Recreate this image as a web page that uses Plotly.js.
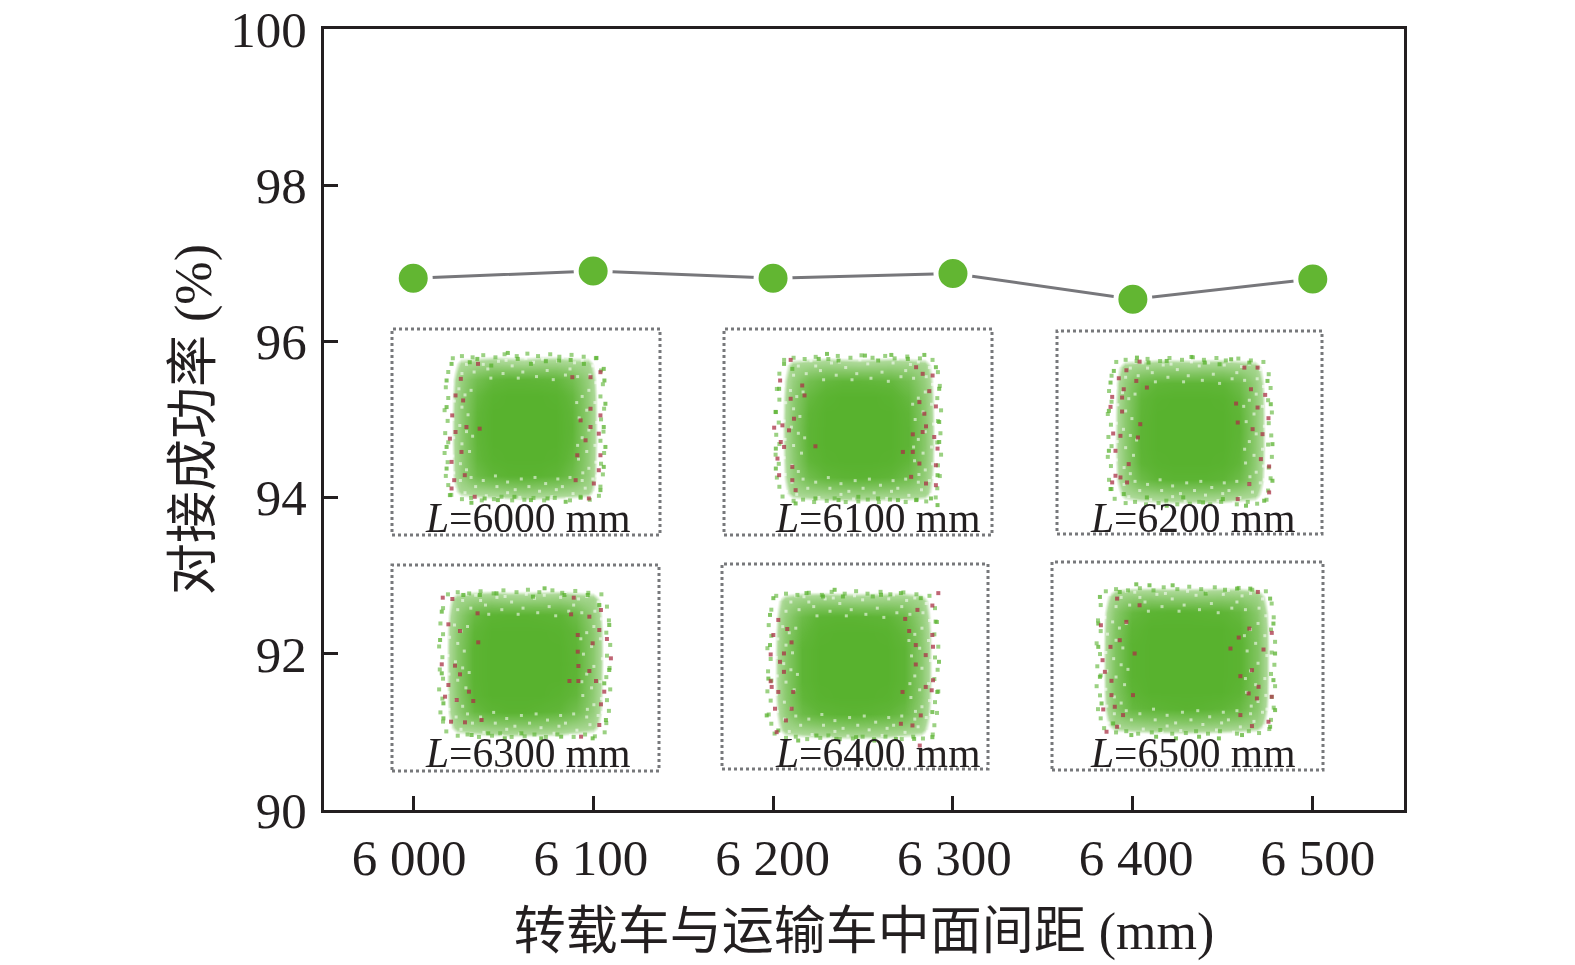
<!DOCTYPE html>
<html>
<head>
<meta charset="utf-8">
<script src="https://cdn.plot.ly/plotly-3.0.1.min.js"></script>
<style>html,body{margin:0;padding:0;background:#fff}</style>
</head>
<body>
<div id="chart" style="width:1575px;height:965px"></div>
<script>
var spacing = [6000, 6100, 6200, 6300, 6400, 6500];
var successRate = [96.81, 96.9, 96.81, 96.87, 96.54, 96.8];
var xTickText = ["6 000", "6 100", "6 200", "6 300", "6 400", "6 500"];
var yTickVals = [90, 92, 94, 96, 98, 100];
var insetNames = ["6000", "6100", "6200", "6300", "6400", "6500"];

// density of the inset clouds, read by eye on a coarse grid (bottom row first)
var gridVals = [-240, -192, -144, -96, -48, 0, 48, 96, 144, 192, 240];
var density1 = [
  [0,0,0,0,0,0,0,0,0,0,0],
  [0,32,38,42,46,50,46,44,40,34,0],
  [0,46,78,90,95,96,95,90,76,46,0],
  [0,48,86,98,100,100,100,98,84,48,0],
  [0,50,88,100,100,100,100,100,88,50,0],
  [0,50,90,100,100,100,100,100,90,50,0],
  [0,50,88,100,100,100,100,100,88,50,0],
  [0,48,84,97,100,100,100,97,84,48,0],
  [0,44,72,86,90,90,88,86,72,44,0],
  [0,30,34,38,36,34,38,38,34,32,0],
  [0,0,0,0,0,0,0,0,0,0,0]];
var density2 = [
  [0,0,0,0,0,0,0,0,0,0,0],
  [0,34,40,44,46,48,46,44,42,36,0],
  [0,46,76,88,92,94,92,88,76,46,0],
  [0,50,88,98,100,100,100,98,88,52,0],
  [0,52,92,100,100,100,100,100,92,54,0],
  [0,54,92,100,100,100,100,100,92,54,0],
  [0,52,90,100,100,100,100,100,90,52,0],
  [0,50,84,96,100,100,100,96,84,50,0],
  [0,44,72,84,88,88,86,84,72,44,0],
  [0,32,36,40,38,36,38,40,38,34,0],
  [0,0,0,0,0,0,0,0,0,0,0]];
var density3 = [
  [0,0,0,0,0,0,0,0,0,0,0],
  [0,30,38,42,46,46,46,44,38,32,0],
  [0,46,78,90,94,94,94,90,78,46,0],
  [0,50,90,98,100,100,100,98,88,50,0],
  [0,52,92,100,100,100,100,100,90,52,0],
  [0,52,92,100,100,100,100,100,92,52,0],
  [0,52,90,100,100,100,100,100,90,52,0],
  [0,50,88,98,100,100,100,98,86,50,0],
  [0,46,78,88,90,90,90,88,76,46,0],
  [0,34,38,42,42,40,42,42,38,34,0],
  [0,0,0,0,0,0,0,0,0,0,0]];
var density4 = [
  [0,0,0,0,0,0,0,0,0,0,0],
  [0,34,40,46,50,50,48,46,38,32,0],
  [0,48,82,92,96,96,92,88,74,46,0],
  [0,52,92,100,100,100,100,96,86,50,0],
  [0,54,94,100,100,100,100,100,90,52,0],
  [0,54,94,100,100,100,100,100,92,54,0],
  [0,54,94,100,100,100,100,100,90,54,0],
  [0,52,90,100,100,100,100,98,88,52,0],
  [0,46,82,94,96,96,94,92,78,46,0],
  [0,36,42,46,42,42,44,46,40,36,0],
  [0,0,0,0,0,0,0,0,0,0,0]];
var density5 = [
  [0,0,0,0,0,0,0,0,0,0,0],
  [0,34,40,44,48,50,48,46,40,34,0],
  [0,46,78,88,92,94,92,88,78,46,0],
  [0,52,88,98,100,100,100,98,88,52,0],
  [0,54,92,100,100,100,100,100,92,54,0],
  [0,54,92,100,100,100,100,100,92,54,0],
  [0,54,92,100,100,100,100,100,92,54,0],
  [0,52,86,98,100,100,100,98,86,52,0],
  [0,46,78,92,94,94,92,90,78,46,0],
  [0,36,44,46,44,42,42,44,44,36,0],
  [0,0,0,0,0,0,0,0,0,0,0]];
var density6 = [
  [0,0,0,0,0,0,0,0,0,0,0],
  [0,38,44,48,50,52,50,48,44,38,0],
  [0,54,84,90,94,96,94,90,82,54,0],
  [0,60,92,100,100,100,100,100,92,60,0],
  [0,62,96,100,100,100,100,100,96,62,0],
  [0,62,96,100,100,100,100,100,96,62,0],
  [0,62,96,100,100,100,100,100,96,62,0],
  [0,60,92,100,100,100,100,100,92,60,0],
  [0,54,84,94,96,96,94,92,84,54,0],
  [0,38,46,48,46,46,46,48,46,38,0],
  [0,0,0,0,0,0,0,0,0,0,0]];

// how far each cloud reaches sideways compared with the first one
var cloudSpread = [1, 1.04, 1.03, 1.07, 1.07, 1.12];
var edgeReach = 0.92;

// failed dockings (red)
var red1 = [[-192,145],[-208,95],[-140,190],[-225,-35],[-208,-15],[-218,35],[-185,80],[-175,0],[-135,-5],[-190,-75],[-220,-105],[-212,-160],[-220,-185],[-180,-145],[-150,-210],[230,165],[200,55],[230,35],[200,0],[170,20],[225,-20],[185,-40],[230,-85],[160,-85],[225,-130],[210,-170],[195,-215],[155,-160],[145,150],[200,150]];
var red2 = [[-205,207],[-237,145],[-170,130],[-163,100],[-205,90],[-195,30],[-230,10],[-210,-5],[-255,3],[-235,-40],[-225,-55],[-245,-90],[-200,-115],[-240,-140],[-200,-155],[-190,-185],[-130,-53],[175,185],[195,165],[225,160],[215,113],[185,80],[235,67],[200,45],[205,7],[165,-17],[195,-10],[230,-25],[240,-60],[165,-70],[135,-70],[235,-110],[185,-105],[160,-145],[205,-165],[235,-170]];
var red3 = [[-152,208],[-192,182],[-215,158],[-162,150],[-200,125],[-235,102],[-205,100],[-240,72],[-205,58],[-150,20],[-232,-8],[-210,-15],[-157,-20],[-225,-60],[-185,-100],[-225,-135],[-210,-140],[-235,-155],[-190,-155],[-130,130],[205,190],[165,190],[185,125],[228,108],[140,82],[205,70],[238,38],[190,5],[145,25],[220,-10],[215,-85],[240,-107],[240,-185],[180,-160],[145,-205]];
var red4 = [[-247,197],[-218,193],[-142,150],[-230,117],[-195,97],[-140,63],[-250,-3],[-210,-7],[-195,-33],[-230,-65],[-168,-85],[-205,-110],[-240,-100],[-155,-113],[-222,-175],[-180,-177],[-130,-170],[148,197],[230,160],[140,147],[195,140],[225,100],[248,73],[160,85],[205,60],[160,35],[260,15],[162,-8],[195,-23],[135,-53],[162,-53],[215,-53],[240,-85],[230,-123],[225,-185],[170,-220]];
var red5 = [[258,215],[240,178],[195,165],[158,138],[-225,135],[-198,108],[-240,90],[-185,68],[-248,32],[-208,35],[-220,10],[-208,-20],[-248,-48],[-245,-65],[-225,-80],[-180,-80],[-235,-130],[-185,-130],[-202,-165],[-230,-200],[170,102],[240,90],[190,60],[242,55],[220,30],[190,2],[242,-45],[150,-80],[220,-65],[238,-75],[205,-150],[180,-180],[145,-175],[202,-240]];
var red6 = [[-208,185],[-140,165],[-257,105],[-180,115],[-200,60],[-228,40],[-155,20],[-252,0],[-245,-35],[-225,-62],[-225,-105],[-160,-105],[-215,-140],[-250,-148],[-190,-165],[-240,-215],[-208,-200],[218,205],[192,95],[260,82],[160,68],[235,32],[135,35],[200,-30],[165,-48],[220,-80],[260,-110],[215,-115],[190,-100],[165,-165],[250,-185],[200,-198]];

// loose green points round the edge of each cloud
var green1 = [[-50,223],[-142,205],[-220,190],[-165,195],[-100,185],[-20,205],[20,190],[65,198],[105,200],[140,202],[180,190],[218,208],[240,175],[-235,140],[242,140],[-235,60],[245,70],[240,0],[-235,-60],[245,-60],[-235,-125],[240,-120],[-225,-205],[-160,-228],[-120,-215],[-80,-220],[-30,-210],[20,-220],[70,-215],[125,-225],[170,-210],[230,-190]];
var green2 = [[-95,225],[-120,210],[-60,205],[20,220],[-225,195],[-200,180],[100,222],[60,205],[150,210],[200,222],[235,185],[-240,120],[-250,50],[245,120],[245,20],[-250,-60],[245,-40],[-250,-120],[240,-140],[-190,-225],[-130,-210],[-60,-215],[0,-205],[60,-210],[120,-215],[175,-215],[220,-210],[240,-230]];
var green3 = [[-160,220],[-125,205],[-70,210],[5,222],[45,205],[90,200],[125,215],[-230,180],[-240,145],[180,205],[235,150],[-245,60],[245,80],[-245,-60],[250,-40],[250,-150],[-240,-175],[-200,-190],[-130,-200],[-70,-225],[-20,-200],[40,-215],[100,-205],[170,-225],[225,-210]];
var green4 = [[-185,205],[-135,205],[-85,210],[60,225],[25,200],[120,205],[190,205],[225,175],[-250,155],[-255,70],[255,115],[-250,-30],[255,-20],[-245,-120],[240,-60],[-245,-165],[245,-170],[-160,-215],[-110,-210],[-60,-225],[-10,-210],[50,-225],[110,-220],[205,-225]];
var green5 = [[-240,200],[-140,215],[-55,225],[-30,205],[-90,205],[60,205],[85,210],[145,215],[205,200],[-250,150],[250,130],[-250,60],[260,10],[-255,-40],[255,-80],[-260,-150],[240,-140],[-225,-195],[-165,-225],[-110,-210],[-50,-220],[10,-215],[65,-225],[130,-220],[185,-220],[240,-215]];
var green6 = [[-150,228],[-110,225],[-40,225],[-260,190],[-200,205],[60,200],[155,215],[195,215],[255,185],[-265,110],[265,110],[-265,40],[270,20],[-260,-50],[265,-60],[-255,-130],[270,-150],[-220,-190],[-165,-225],[-90,-230],[-30,-235],[40,-230],[100,-235],[170,-225],[255,-200]];

// outermost scatter, and small gaps showing white through the cloud edge
var edgeDots = [[-235,225],[-205,232],[-170,228],[-135,235],[-95,228],[-65,238],[-25,232],[10,240],[45,232],[85,238],[115,230],[155,236],[195,230],[235,225],
  [-240,-222],[-205,-236],[-175,-232],[-140,-240],[-100,-236],[-75,-228],[-40,-240],[0,-238],[30,-232],[65,-240],[100,-232],[150,-240],[185,-232],[215,-238],[245,-225],
  [-250,180],[-258,130],[-250,95],[-262,55],[-252,20],[-260,-20],[-250,-50],[-262,-85],[-252,-115],[-258,-160],[-250,-190],
  [252,185],[258,140],[250,100],[262,60],[252,25],[260,-15],[250,-45],[262,-85],[252,-120],[258,-155],[250,-195]];
var edgeGaps = [[-225,215],[-190,205],[-150,222],[-120,190],[-85,215],[-40,200],[-5,180],[30,212],[75,185],[110,215],[150,190],[190,218],[225,200],[-205,175],[-165,180],[-110,160],[-70,175],[-20,160],[40,165],[95,155],[135,170],[175,165],[215,170],[-60,218],[60,222],[5,225],[-175,225],[-135,205],[125,228],[165,210],
  [-228,-205],[-195,-215],[-160,-195],[-125,-225],[-90,-195],[-55,-215],[-15,-230],[15,-195],[50,-210],[90,-228],[125,-195],[160,-218],[200,-200],[230,-215],[-210,-175],[-175,-165],[-135,-175],[-95,-160],[-55,-180],[-10,-170],[35,-165],[70,-185],[110,-170],[150,-165],[190,-175],[225,-170],[-30,-205],[105,-205],[-70,-235],[140,-235],
  [-238,140],[-215,125],[-195,105],[-230,85],[-205,65],[-185,40],[-235,25],[-212,5],[-190,-15],[-232,-35],[-205,-55],[-180,-80],[-235,-95],[-210,-120],[-190,-140],[-232,-150],[-175,120],[-170,-30],
  [235,145],[212,120],[190,100],[232,80],[205,55],[180,30],[238,15],[212,-10],[190,-35],[232,-60],[205,-80],[178,-105],[235,-115],[212,-135],[192,-150],[238,-160],[172,80],[175,-60]];

var densities = [density1, density2, density3, density4, density5, density6];
var reds = [red1, red2, red3, red4, red5, red6];
var greens = [green1, green2, green3, green4, green5, green6];

// inset axis ranges, same units as the dots above
var insetXRanges = [[-400,410],[-407,405],[-402,400],[-400,405],[-395,408],[-405,415]];
var insetYRanges = [[-325,295],[-320,300],[-310,300],[-323,295],[-310,302],[-330,295]];

// page geometry in pixels
var plotBox = {left: 324, right: 1404, top: 29, bottom: 810};
var insetFrames = [[392,660,329,535],[724,992,329,535],[1057,1322,331,534],[392,659,565,771],[722,988,564,769],[1052,1323,562,770]];
var labelSpots = [[527,518],[877,518],[1192,518],[527,753],[877,753],[1192,753]];

var ink = "#231f20";
var fontStack = "'Liberation Serif', 'Noto Sans CJK SC', serif";
var cloudGreen = "88,178,46";

function px2x(px) { return (px - plotBox.left) / (plotBox.right - plotBox.left); }
function px2y(py) { return (plotBox.bottom - py) / (plotBox.bottom - plotBox.top); }
function col(pairs, k) { return pairs.map(function (p) { return p[k]; }); }
function scaled(vals, f) { return vals.map(function (v) { return v * f; }); }

var data = [];
var layout = {
  width: 1575,
  height: 965,
  showlegend: false,
  paper_bgcolor: "#fff",
  plot_bgcolor: "#fff",
  margin: {l: plotBox.left, r: 1575 - plotBox.right, t: plotBox.top, b: 965 - plotBox.bottom, pad: 0},
  font: {family: fontStack, color: ink},
  xaxis: {
    range: [5950.4, 6550.7],
    tickvals: spacing,
    showticklabels: false,
    ticks: "inside",
    ticklen: 14,
    tickwidth: 3,
    tickcolor: ink,
    showline: true,
    mirror: true,
    linewidth: 3,
    linecolor: ink,
    showgrid: false,
    zeroline: false
  },
  // tick labels sit a little wider apart than the ticks in the original
  xaxis8: {
    overlaying: "x",
    anchor: "y",
    side: "bottom",
    range: [5953.1, 6547.4],
    tickvals: spacing,
    ticktext: xTickText,
    ticks: "",
    showline: false,
    showgrid: false,
    zeroline: false,
    ticklabelstandoff: 13,
    tickfont: {size: 51, color: ink, family: fontStack},
    title: {text: "转载车与运输车中面间距 (mm)", standoff: 27, font: {size: 52, color: ink, family: fontStack}}
  },
  yaxis: {
    range: [90, 100],
    tickvals: yTickVals,
    ticks: "inside",
    ticklen: 14,
    tickwidth: 3,
    tickcolor: ink,
    showline: true,
    mirror: true,
    linewidth: 3,
    linecolor: ink,
    showgrid: false,
    zeroline: false,
    ticklabelstandoff: 4,
    tickfont: {size: 51, color: ink, family: fontStack},
    title: {text: "对接成功率 (%)", standoff: 3, font: {size: 52, color: ink, family: fontStack}}
  },
  shapes: [],
  annotations: []
};

for (var i = 0; i < 6; i++) {
  var n = i + 2;
  var xa = "x" + n;
  var ya = "y" + n;
  var fr = insetFrames[i];
  var spread = cloudSpread[i];

  layout["xaxis" + n] = {domain: [px2x(fr[0]), px2x(fr[1])], range: insetXRanges[i], anchor: ya, visible: false, fixedrange: true};
  layout["yaxis" + n] = {domain: [px2y(fr[3]), px2y(fr[2])], range: insetYRanges[i], anchor: xa, visible: false, fixedrange: true};

  data.push({
    type: "heatmap",
    x: scaled(gridVals, spread),
    y: gridVals,
    z: densities[i],
    zmin: 0,
    zmax: 100,
    zsmooth: "best",
    showscale: false,
    hoverinfo: "skip",
    xaxis: xa,
    yaxis: ya,
    colorscale: [
      [0, "rgba(" + cloudGreen + ",0)"],
      [0.2, "rgba(" + cloudGreen + ",0)"],
      [0.3, "rgba(" + cloudGreen + ",0.5)"],
      [0.6, "rgba(" + cloudGreen + ",0.75)"],
      [0.9, "rgba(" + cloudGreen + ",0.96)"],
      [1, "rgb(" + cloudGreen + ")"]
    ]
  });
  data.push({
    type: "scatter", mode: "markers",
    x: scaled(col(edgeGaps, 0), spread * edgeReach), y: scaled(col(edgeGaps, 1), edgeReach),
    xaxis: xa, yaxis: ya,
    hoverinfo: "skip", marker: {symbol: "square", size: 3, color: "rgba(255,255,255,0.55)"}
  });
  data.push({
    type: "scatter", mode: "markers",
    x: scaled(col(edgeDots, 0), spread * edgeReach), y: scaled(col(edgeDots, 1), edgeReach),
    xaxis: xa, yaxis: ya,
    hoverinfo: "skip", marker: {symbol: "square", size: 4, color: "rgba(" + cloudGreen + ",0.6)"}
  });
  data.push({
    type: "scatter", mode: "markers", x: col(greens[i], 0), y: col(greens[i], 1), xaxis: xa, yaxis: ya,
    hoverinfo: "skip", marker: {symbol: "square", size: 4, color: "rgba(" + cloudGreen + ",0.75)"}
  });
  data.push({
    type: "scatter", mode: "markers", x: col(reds[i], 0), y: col(reds[i], 1), xaxis: xa, yaxis: ya,
    hoverinfo: "skip", marker: {symbol: "square", size: 4, color: "rgba(170,50,70,0.75)"}
  });

  layout.shapes.push({
    type: "rect", xref: xa + " domain", yref: ya + " domain", x0: 0, x1: 1, y0: 0, y1: 1,
    line: {color: "#77787b", width: 3, dash: "3px,3px"}, layer: "above"
  });
  layout.annotations.push({
    xref: "paper", yref: "paper", x: px2x(labelSpots[i][0]), y: px2y(labelSpots[i][1]),
    xanchor: "center", yanchor: "middle", showarrow: false,
    text: "<i>L</i>=" + insetNames[i] + " mm",
    font: {size: 41.5, color: ink, family: fontStack}
  });
}

data.push({
  type: "scatter",
  mode: "lines+markers",
  x: spacing,
  y: successRate,
  line: {color: "#77777b", width: 3},
  marker: {size: 34, color: "#62b632", line: {color: "#fff", width: 5}}
});
// keeps the label axis alive, draws nothing visible
data.push({type: "scatter", mode: "markers", x: spacing, y: successRate, xaxis: "x8", yaxis: "y", opacity: 0, hoverinfo: "skip"});

Plotly.newPlot("chart", data, layout, {displayModeBar: false, staticPlot: true});
</script>
</body>
</html>
